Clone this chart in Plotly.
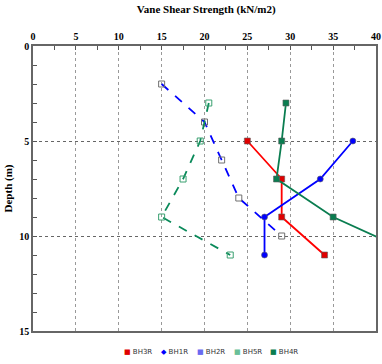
import plotly.graph_objects as go

bh3r_x = [25, 29, 29, 34]
bh3r_y = [5, 7, 9, 11]
bh1r_x = [37.3, 33.5, 27, 27]
bh1r_y = [5, 7, 9, 11]
bh2r_x = [15, 20, 22, 24, 29]
bh2r_y = [2, 4, 6, 8, 10]
bh5r_x = [20.5, 19.5, 17.5, 15, 23]
bh5r_y = [3, 5, 7, 9, 11]
bh4r_x = [29.5, 29, 28.4, 35, 44.7]
bh4r_y = [3, 5, 7, 9, 11]

series = [
    dict(name="BH3R", x=bh3r_x, y=bh3r_y, lc="#FF0000", dash="solid",
         sym="square", mc="#E00000", leg_sym="■", leg_c="#E00000"),
    dict(name="BH1R", x=bh1r_x, y=bh1r_y, lc="#0000FF", dash="solid",
         sym="circle", mc="#0000FF", leg_sym="◆", leg_c="#0000FF"),
    dict(name="BH2R", x=bh2r_x, y=bh2r_y, lc="#0000FF", dash="dash",
         sym="square-open", mc="#707070", leg_sym="■", leg_c="#6A6AF0"),
    dict(name="BH5R", x=bh5r_x, y=bh5r_y, lc="#0A8A5A", dash="dash",
         sym="square-open", mc="#3AA070", leg_sym="■", leg_c="#6ABF98"),
    dict(name="BH4R", x=bh4r_x, y=bh4r_y, lc="#0A7D50", dash="solid",
         sym="square", mc="#0A7D50", leg_sym="■", leg_c="#0A7D50"),
]

fig = go.Figure()
for s in series:
    filled = not s["sym"].endswith("open")
    fig.add_trace(go.Scatter(x=s["x"], y=s["y"], name=s["name"], mode="lines+markers",
        showlegend=False,
        line=dict(color=s["lc"], width=1.8, dash=s["dash"]),
        marker=dict(symbol=s["sym"], size=6, color=s["mc"],
                    line=dict(color="#606060" if filled else s["mc"], width=0.6 if filled else 1))))

# compact legend row under the plot
for i, s in enumerate(series):
    fig.add_annotation(xref="paper", yref="paper", x=(122 + 36.5 * i - 33) / 343, y=-0.074,
        xanchor="left", yanchor="middle", showarrow=False,
        text=f"<span style='color:{s['leg_c']}'>{s['leg_sym']}</span> {s['name']}",
        font=dict(family="DejaVu Sans", size=7, color="#333333"))

serif = "Liberation Serif"
fig.update_layout(
    width=382, height=364,
    margin=dict(l=33, r=6, t=46, b=33),
    paper_bgcolor="white", plot_bgcolor="white",
    title=dict(text="<b>Vane Shear Strength (kN/m2)</b>", x=0.54, xanchor="center", y=0.985, yanchor="top",
               font=dict(family=serif, size=11, color="black")),
    xaxis=dict(range=[0, 40], side="top", dtick=5, tick0=0, automargin=False,
               showgrid=True, gridcolor="#999999", griddash="dot", gridwidth=1,
               ticks="inside", ticklen=4, tickcolor="#555555",
               minor=dict(dtick=2.5, ticks="inside", ticklen=4, tickcolor="#555555", showgrid=False),
               showline=True, linecolor="#666666", linewidth=1.5, mirror=True,
               tickfont=dict(family=serif, size=10, color="black"), tickprefix="<b>", ticksuffix="</b>",
               zeroline=False),
    yaxis=dict(range=[15, 0], dtick=5, tick0=0, automargin=False,
               showgrid=True, gridcolor="#666666", griddash="dot", gridwidth=1,
               ticks="inside", ticklen=4, tickcolor="#555555",
               minor=dict(dtick=1, ticks="inside", ticklen=4, tickcolor="#555555", showgrid=False),
               showline=True, linecolor="#666666", linewidth=1.5, mirror=True,
               tickfont=dict(family=serif, size=10, color="black"), tickprefix="<b>", ticksuffix="</b>",
               title=dict(text="<b>Depth (m)</b>", font=dict(family=serif, size=11, color="black"), standoff=4),
               zeroline=False),
    showlegend=False,
)
fig.write_html("out.html", config={"displayModeBar": False},
               post_script="document.body.style.margin='0';")
